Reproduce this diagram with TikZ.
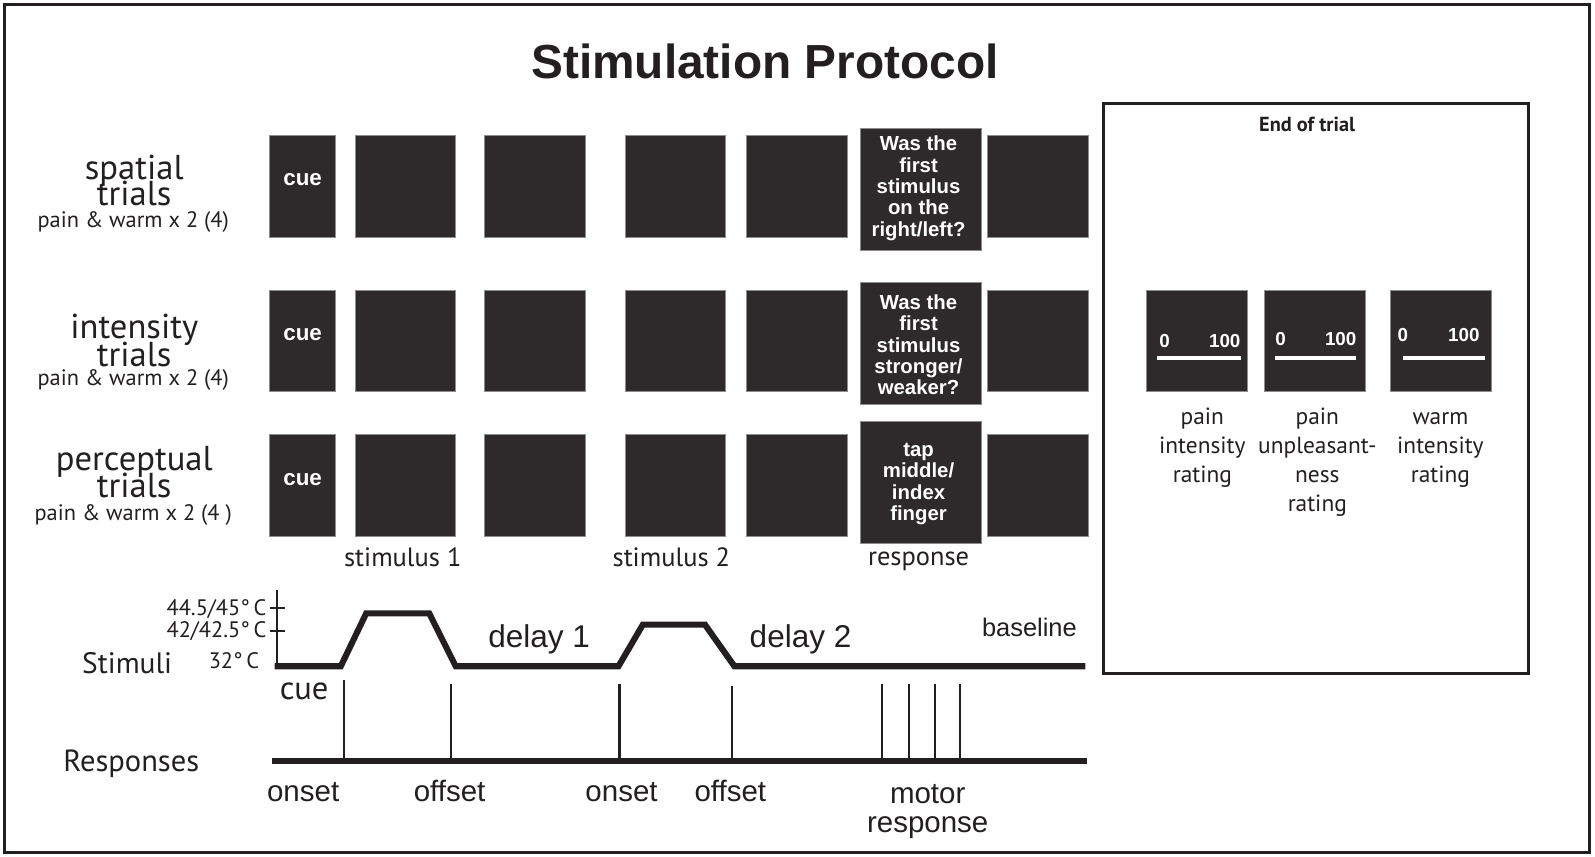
\documentclass[tikz,border=0pt]{standalone}
\usepackage{fontspec}
\setmainfont{PT Sans}
\newfontfamily\helv{Liberation Sans}
\definecolor{boxfill}{RGB}{46,41,42}
\definecolor{ink}{RGB}{35,31,32}
\newcommand\lblbig{\fontsize{34}{28}\selectfont}
\newcommand\lblsmall{\fontsize{22}{24}\selectfont}
\newcommand\timefont{\helv\fontsize{29}{28}\selectfont}
\tikzset{
  blk/.style={draw=black!45, line width=0.8, fill=boxfill, inner sep=0pt,
    minimum width=99, minimum height=100},
  cuebox/.style={blk, minimum width=65},
  respbox/.style={blk, minimum width=119, minimum height=120},
  intxt/.style={text=white, inner sep=0pt, align=center,
    font=\helv\bfseries\fontsize{20}{21}\selectfont},
  txt/.style={text=ink, inner sep=0pt, anchor=base},
  stim/.style={line width=6, ink},
  tick/.style={line width=2, ink},
}

\begin{document}
\begin{tikzpicture}[x=1pt, y=-1pt]
  \useasboundingbox (0,0) rectangle (1568,842);
  \draw[line width=3, ink] (4,4) rectangle (1563,838);
  \node[txt, font=\helv\bfseries\fontsize{47}{50}\selectfont] (title) at (752,77) {Stimulation Protocol};

  % trial rows
  \foreach \r/\t/\q in {1/133/186, 2/285/338, 3/427/474}{
    \node[cuebox] (cue\r) at (297.5,\t+50) {};
    \node[intxt, font=\helv\bfseries\fontsize{22}{22}\selectfont] (cuetxt\r) at (297.5,\t+44) {cue};
    \node[blk] (sa\r) at (398.5,\t+50) {};
    \node[blk] (sb\r) at (525.5,\t+50) {};
    \node[blk] (sc\r) at (664,\t+50) {};
    \node[blk] (sd\r) at (783.5,\t+50) {};
    \node[respbox] (resp\r) at (905.5,\q) {};
    \node[blk] (base\r) at (1020.5,\t+50) {};
  }
  \node[intxt] (q1) at (903,185) {Was the\\first\\stimulus\\on the\\right/left?};
  \node[intxt] (q2) at (903,339) {Was the\\first\\stimulus\\stronger/\\weaker?};
  \node[intxt] (q3) at (903,476) {tap\\middle/\\index\\finger};

  \node[txt, font=\lblbig] (sp1) at (132,176) {spatial};
  \node[txt, font=\lblbig] (sp2) at (132,202) {trials};
  \node[txt, font=\lblsmall] (sp3) at (131,224) {pain \& warm x 2 (4)};
  \node[txt, font=\lblbig] (in1) at (132,333) {intensity};
  \node[txt, font=\lblbig] (in2) at (132,360) {trials};
  \node[txt, font=\lblsmall] (in3) at (131,379) {pain \& warm x 2 (4)};
  \node[txt, font=\lblbig] (pe1) at (132,463) {perceptual};
  \node[txt, font=\lblbig] (pe2) at (132,489) {trials};
  \node[txt, font=\lblsmall] (pe3) at (131,512) {pain \& warm x 2 (4 )};

  \node[txt, font=\fontsize{26}{28}\selectfont] (st1) at (396,557) {stimulus 1};
  \node[txt, font=\fontsize{26}{28}\selectfont] (st2) at (660,557) {stimulus 2};
  \node[txt, font=\fontsize{26}{28}\selectfont] (rsp) at (903,556) {response};

  % end of trial
  \draw[line width=3, ink] (1085,102) rectangle (1503,662);
  \node[txt, font=\bfseries\fontsize{20}{22}\selectfont] (eot) at (1285,129) {End of trial};
  \foreach \n/\x/\ty/\za/\zb/\la/\lb in {1/1176.5/335/31.5/27.5/39.5/43.5,
      2/1292.5/333/33.5/25.5/39.5/40.5, 3/1416.5/329/37.5/22.5/37.5/43.5}{
    \node[blk] (rate\n) at (\x,335) {};
    \node[intxt, font=\helv\bfseries\fontsize{18.5}{20}\selectfont] (lo\n) at (\x-\za,\ty) {0};
    \node[intxt, font=\helv\bfseries\fontsize{18.5}{20}\selectfont] (hi\n) at (\x+\zb,\ty) {100};
    \draw[white, line width=3.5] (\x-\la,352) -- (\x+\lb,352);
  }
  \node[txt, anchor=center, align=center, font=\fontsize{23}{28.5}\selectfont] (r1) at (1182,440) {pain\\intensity\\rating};
  \node[txt, anchor=center, align=center, font=\fontsize{23}{28.5}\selectfont] (r2) at (1295,454.5) {pain\\unpleasant-\\ness\\rating};
  \node[txt, anchor=center, align=center, font=\fontsize{23}{28.5}\selectfont] (r3) at (1416,442) {warm\\intensity\\rating};

  % stimulus time course
  \draw[tick] (272,580) -- (272,655);
  \draw[tick] (265,598) -- (280,598);
  \draw[tick] (265,620) -- (280,620);
  \draw[stim] (270,655) -- (335,655) -- (360,603) -- (422,603) -- (448,655) -- (608,655)
    -- (632,614) -- (693,614) -- (722,655) -- (1067,655);
  \node[txt, anchor=base east, font=\fontsize{22}{22}\selectfont] (t1) at (262,605) {44.5/45°\,C};
  \node[txt, anchor=base east, font=\fontsize{22}{22}\selectfont] (t2) at (262,627) {42/42.5°\,C};
  \node[txt, anchor=base east, font=\fontsize{22}{22}\selectfont] (t3) at (255,657) {32°\,C};
  \node[txt, font=\fontsize{29}{31}\selectfont] (stl) at (125,662) {Stimuli};
  \node[txt, font=\fontsize{32}{34}\selectfont] (cuel) at (299,688) {cue};
  \node[txt, font=\helv\fontsize{31}{33}\selectfont] (d1) at (530,637) {delay 1};
  \node[txt, font=\helv\fontsize{31}{33}\selectfont] (d2) at (787,637) {delay 2};
  \node[txt, font=\helv\fontsize{25}{27}\selectfont] (bl) at (1012,626) {baseline};

  % responses
  \draw[stim] (267,748) -- (1069,748);
  \foreach \x/\y in {338/668, 443/672, 609/672, 720/674, 867/672, 894/672, 919/672, 944/672}
    \draw[tick] (\x,\y) -- (\x,748);
  \node[txt, font=\fontsize{30}{31}\selectfont] (rsl) at (129,758) {Responses};
  \node[txt, font=\timefont] (on1) at (298,788) {onset};
  \node[txt, font=\timefont] (of1) at (442,788) {offset};
  \node[txt, font=\timefont] (on2) at (611,788) {onset};
  \node[txt, font=\timefont] (of2) at (718,788) {offset};
  \node[txt, font=\timefont] (mo1) at (912,790) {motor};
  \node[txt, font=\timefont] (mo2) at (912,818) {response};
\end{tikzpicture}
\end{document}
